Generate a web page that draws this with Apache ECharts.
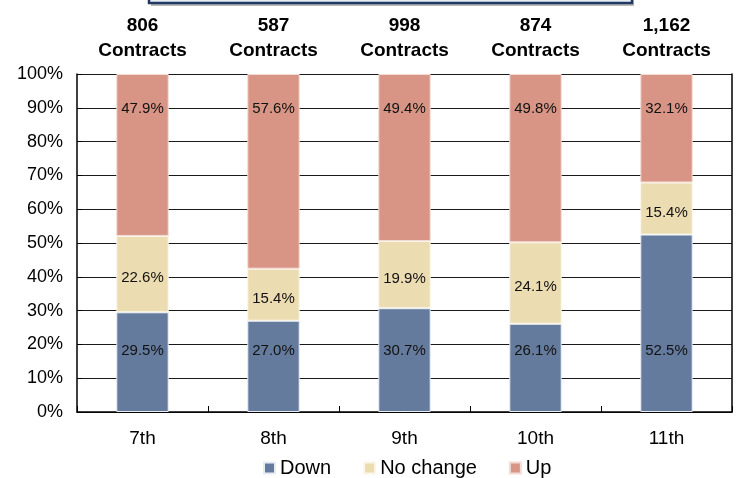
<!DOCTYPE html>
<html>
<head>
<meta charset="utf-8">
<script src="https://cdn.jsdelivr.net/npm/echarts@6/dist/echarts.min.js"></script>
<style>
  html, body { margin: 0; padding: 0; background: #fff; }
  #chart { width: 742px; height: 478px; }
</style>
</head>
<body>
<div id="chart"></div>
<script>
// data
var categories = ['7th', '8th', '9th', '10th', '11th'];
var contracts = ['806', '587', '998', '874', '1,162'];
var down = [29.5, 27.0, 30.7, 26.1, 52.5];
var noChange = [22.6, 15.4, 19.9, 24.1, 15.4];
var up = [47.9, 57.6, 49.4, 49.8, 32.1];
var yTicks = [0, 10, 20, 30, 40, 50, 60, 70, 80, 90, 100];

var font = 'Liberation Sans';
var chart = echarts.init(document.getElementById('chart'));

function pct(p) { return p.value.toFixed(1) + '%'; }

var option = {
  animation: false,
  textStyle: { fontFamily: font },
  grid: { left: 77, right: 10, top: 74, bottom: 66 },
  // the bottom edge of a title box cut off at the top of the picture
  graphic: [
    { type: 'rect', shape: { x: 151, y: -20, width: 483, height: 26 }, style: { fill: '#b8b8b8' } },
    { type: 'rect', shape: { x: 149, y: -20, width: 483, height: 23 }, style: { fill: '#e8edf4', stroke: '#1f3864', lineWidth: 2.5 } }
  ],
  legend: {
    left: 258, top: 453,
    itemWidth: 11, itemHeight: 11, itemGap: 32,
    icon: 'rect',
    textStyle: { fontSize: 20, color: '#000', fontFamily: font },
    data: ['Down', 'No change', 'Up']
  },
  xAxis: [{
    type: 'category',
    data: categories,
    axisLine: { lineStyle: { color: '#000', width: 1.5 } },
    axisTick: { show: true, inside: true, length: 6, lineStyle: { color: '#000' } },
    axisLabel: { fontSize: 19, color: '#000', margin: 17 }
  }, {
    type: 'category',
    position: 'top',
    data: contracts,
    axisLine: { show: false },
    axisTick: { show: false },
    axisLabel: {
      fontSize: 19, fontWeight: 'bold', color: '#000', margin: 11, lineHeight: 25,
      formatter: function (v) { return v + '\nContracts'; }
    }
  }],
  yAxis: [{
    type: 'value',
    min: 0, max: 100, interval: 10,
    axisLine: { show: true, lineStyle: { color: '#000', width: 1.5 } },
    axisTick: { show: true, inside: true, length: 5, lineStyle: { color: '#000' } },
    axisLabel: {
      fontSize: 18, color: '#000', margin: 14,
      formatter: function (v) { return yTicks.indexOf(v) >= 0 ? v + '%' : ''; }
    },
    splitLine: { show: true, lineStyle: { color: '#1a1a1a', width: 1 } }
  }, {
    type: 'value',
    position: 'right',
    min: 0, max: 100, interval: 10,
    axisLine: { show: true, lineStyle: { color: '#000', width: 1.5 } },
    axisTick: { show: false },
    axisLabel: { show: false },
    splitLine: { show: false }
  }],
  series: [{
    name: 'Down', type: 'bar', stack: 'all', data: down, barWidth: '40%',
    itemStyle: { color: '#657b9e', borderColor: '#e8ecf2', borderWidth: 1 },
    label: { show: true, position: 'insideBottom', distance: 54, fontSize: 15, color: '#111', formatter: pct }
  }, {
    name: 'No change', type: 'bar', stack: 'all', data: noChange,
    itemStyle: { color: '#ecdcb1', borderColor: '#fbf6ea', borderWidth: 1 },
    label: { show: true, position: 'inside', offset: [0, 4], fontSize: 15, color: '#111', formatter: pct }
  }, {
    name: 'Up', type: 'bar', stack: 'all', data: up,
    itemStyle: { color: '#d89585', borderColor: '#f3dcd6', borderWidth: 1 },
    label: { show: true, position: 'insideTop', distance: 27, fontSize: 15, color: '#111', formatter: pct }
  }]
};

chart.setOption(option);
</script>
</body>
</html>
